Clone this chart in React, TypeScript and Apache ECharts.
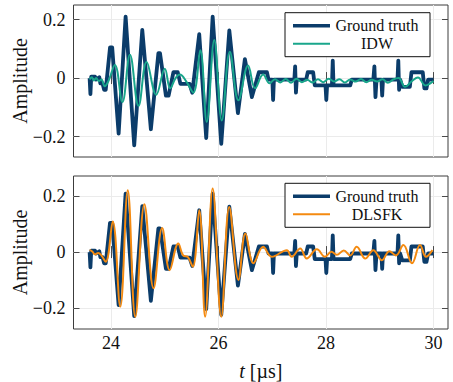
import React, { useEffect, useRef } from 'react';
import * as echarts from 'echarts';

// ---- data ----
const xTicks = [24, 26, 28, 30];
const yTicks = [-0.2, 0, 0.2];

const gtT = [23.6, 23.615, 23.63, 23.7, 23.72, 23.78, 23.8, 23.84, 23.87, 23.9, 23.98, 24.02, 24.14, 24.27, 24.43, 24.58, 24.74, 24.88, 24.91, 25.02, 25.07, 25.16, 25.24, 25.29, 25.46, 25.51, 25.64, 25.77, 25.89, 26.05, 26.2, 26.36, 26.49, 26.62, 26.75, 26.9, 26.93, 27.0, 27.015, 27.03, 27.41, 27.425, 27.44, 27.455, 27.63, 27.66, 27.76, 27.79, 27.99, 28.005, 28.02, 28.11, 28.125, 28.14, 28.45, 28.48, 28.88, 28.9, 28.92, 28.94, 29.03, 29.045, 29.06, 29.33, 29.345, 29.36, 29.38, 29.42, 29.56, 29.59, 29.8, 29.83, 29.87, 29.9, 30.0];
const gtV = [0.0, -0.055, 0.005, 0.005, -0.005, 0.003, -0.018, -0.018, -0.04, -0.04, 0.105, 0.105, -0.19, 0.21, -0.23, 0.165, -0.175, 0.085, 0.085, -0.06, -0.06, 0.02, 0.02, -0.02, -0.02, -0.05, 0.15, -0.205, 0.21, -0.225, 0.163, -0.12, 0.065, -0.065, 0.02, 0.02, -0.005, -0.005, -0.075, -0.005, -0.005, 0.04, -0.05, -0.005, -0.005, 0.02, 0.02, -0.025, -0.025, -0.075, -0.025, -0.025, 0.06, -0.025, -0.025, -0.005, -0.005, 0.04, -0.065, -0.005, -0.005, -0.06, -0.005, -0.005, 0.06, -0.04, -0.005, -0.03, -0.03, 0.02, 0.02, -0.035, -0.035, -0.005, -0.005];

const idwT = [23.6, 23.64, 23.68, 23.72, 23.77, 23.82, 23.88, 23.95, 24.07, 24.21, 24.35, 24.51, 24.66, 24.84, 25.0, 25.1, 25.2, 25.28, 25.4, 25.53, 25.66, 25.78, 25.92, 26.06, 26.21, 26.37, 26.55, 26.68, 26.83, 26.95, 27.05, 27.15, 27.25, 27.35, 27.45, 27.55, 27.65, 27.75, 27.85, 27.95, 28.05, 28.15, 28.25, 28.35, 28.45, 28.55, 28.65, 28.75, 28.85, 28.95, 29.05, 29.15, 29.25, 29.35, 29.47, 29.6, 29.71, 29.85, 30.0];
const idwV = [-0.005, 0.003, -0.008, 0.0, -0.01, -0.005, -0.028, -0.01, 0.045, -0.082, 0.08, -0.095, 0.055, -0.057, 0.032, -0.035, 0.0, 0.012, -0.012, -0.05, 0.095, -0.15, 0.13, -0.145, 0.09, -0.076, 0.043, -0.035, 0.012, -0.018, -0.004, -0.015, -0.003, -0.016, -0.002, -0.014, -0.006, -0.015, -0.004, -0.014, -0.002, -0.012, -0.004, -0.015, -0.005, -0.012, -0.003, -0.014, -0.006, -0.012, -0.004, -0.016, -0.005, 0.0, -0.03, -0.01, 0.002, -0.025, -0.01];

const dlsfkT = [23.6, 23.65, 23.7, 23.76, 23.82, 23.9, 24.03, 24.17, 24.31, 24.45, 24.62, 24.79, 24.95, 25.09, 25.25, 25.34, 25.43, 25.52, 25.64, 25.75, 25.89, 26.05, 26.2, 26.37, 26.5, 26.65, 26.83, 26.99, 27.27, 27.36, 27.52, 27.64, 27.83, 27.98, 28.1, 28.2, 28.33, 28.45, 28.57, 28.73, 28.88, 29.04, 29.18, 29.3, 29.44, 29.6, 29.75, 29.86, 29.98];
const dlsfkV = [0.008, 0.002, -0.008, -0.003, -0.012, -0.035, 0.11, -0.196, 0.222, -0.232, 0.172, -0.13, 0.086, -0.065, 0.031, -0.012, -0.018, -0.053, 0.15, -0.232, 0.228, -0.232, 0.162, -0.1, 0.067, -0.04, 0.019, -0.017, 0.007, -0.017, 0.013, -0.023, 0.01, -0.017, 0.001, -0.01, 0.006, -0.012, 0.019, -0.023, 0.007, -0.029, 0.003, -0.012, 0.025, -0.04, 0.025, -0.017, 0.007];

const zip = (t: number[], v: number[]) => t.map((x, i) => [x, v[i]]);

const FONT = '"Liberation Serif", "Times New Roman", serif';
const C_GT = '#0b3c6a';
const C_IDW = '#19a68b';
const C_DL = '#f48a10';

const fmtY = (v: number) => (v === 0 ? '0' : (v < 0 ? '\u2212' : '') + String(Math.abs(v)));

export default function App() {
  const ref = useRef<HTMLDivElement>(null);
  useEffect(() => {
    if (!ref.current) return;
    const chart = echarts.init(ref.current, undefined, { renderer: 'svg' });

    const tickStyle = { inside: true, length: 6, lineStyle: { color: '#4a4a4a', width: 1 } };
    const split = { show: true, lineStyle: { color: '#ebebeb', width: 1 } };
    const xBase = { type: 'value', min: 23.3, max: 30.27, axisLine: { show: false } };
    const labelFont = { fontFamily: FONT, fontSize: 18, color: '#111' };

    const xAxis: any[] = [];
    const yAxis: any[] = [];
    const yRanges = [[-0.27, 0.25], [-0.276, 0.273]];
    [0, 1].forEach((g) => {
      xAxis.push({
        ...xBase, gridIndex: g, position: 'bottom',
        axisTick: { ...tickStyle, customValues: xTicks },
        axisLabel: g === 1 ? { show: true, customValues: xTicks, margin: 5, ...labelFont } : { show: false, customValues: xTicks },
        splitLine: split,
        name: g === 1 ? '{i|t} [\u00b5s]' : '',
        nameLocation: 'middle', nameGap: 32, nameMoveOverlap: false,
        nameTextStyle: { fontFamily: FONT, fontSize: 20, color: '#111', rich: { i: { fontFamily: FONT, fontSize: 20, fontStyle: 'italic', color: '#111' } } },
      });
      xAxis.push({
        ...xBase, gridIndex: g, position: 'top',
        axisTick: { ...tickStyle, customValues: xTicks },
        axisLabel: { show: false, customValues: xTicks },
        splitLine: { show: false },
      });
      yAxis.push({
        type: 'value', gridIndex: g, position: 'left', min: yRanges[g][0], max: yRanges[g][1],
        axisLine: { show: false },
        axisTick: { ...tickStyle, customValues: yTicks },
        axisLabel: { show: true, customValues: yTicks, margin: 8, formatter: fmtY, ...labelFont },
        splitLine: split,
        name: 'Amplitude', nameLocation: 'middle', nameGap: 44, nameMoveOverlap: false,
        nameTextStyle: { fontFamily: FONT, fontSize: 20, color: '#111' },
      });
      yAxis.push({
        type: 'value', gridIndex: g, position: 'right', min: yRanges[g][0], max: yRanges[g][1],
        axisLine: { show: false },
        axisTick: { ...tickStyle, customValues: yTicks },
        axisLabel: { show: false, customValues: yTicks },
        splitLine: { show: false },
      });
    });

    const iconThick = 'path://M0,0 M0,3.5 M0,0 L37,0 L37,3.5 L0,3.5 Z';
    const iconThin = 'path://M0,0 M0,3.5 M0,0.75 L37,0.75 L37,2.75 L0,2.75 Z';
    const legendCommon = {
      orient: 'vertical', left: 285, itemWidth: 37, itemHeight: 3.5, itemGap: 0,
      backgroundColor: '#fff', borderColor: '#111', borderWidth: 1, borderRadius: 0,
      padding: [4, 11, 4, 8], selectedMode: false, itemStyle: { borderWidth: 0 },
      formatter: (name: string) => `{c|${name}}`,
      textStyle: {
        fontFamily: FONT, fontSize: 16, color: '#111', lineHeight: 18,
        rich: { c: { width: 84, align: 'center', fontFamily: FONT, fontSize: 16, color: '#111', lineHeight: 18 } },
      },
    };

    const gridCommon = { left: 73.5, right: 5, show: true, borderColor: '#3c3c3c', borderWidth: 1, backgroundColor: 'transparent', containLabel: false, outerBoundsMode: 'none' };

    chart.setOption({
      animation: false,
      backgroundColor: '#fff',
      grid: [
        { ...gridCommon, top: 5, height: 152 },
        { ...gridCommon, top: 176, height: 153 },
      ],
      xAxis,
      yAxis,
      legend: [
        { ...legendCommon, top: 12.7, data: [
          { name: 'Ground truth', icon: iconThick, itemStyle: { color: C_GT, borderWidth: 0 } },
          { name: 'IDW', icon: iconThin, itemStyle: { color: C_IDW, borderWidth: 0 } },
        ] },
        { ...legendCommon, top: 183.3, data: [
          { name: 'Ground truth', icon: iconThick, itemStyle: { color: C_GT, borderWidth: 0 } },
          { name: 'DLSFK', icon: iconThin, itemStyle: { color: C_DL, borderWidth: 0 } },
        ] },
      ],
      series: [
        { name: 'Ground truth', type: 'line', xAxisIndex: 0, yAxisIndex: 0, data: zip(gtT, gtV), symbol: 'none', lineStyle: { color: C_GT, width: 3.8, join: 'round' }, itemStyle: { color: C_GT } },
        { name: 'IDW', type: 'line', xAxisIndex: 0, yAxisIndex: 0, data: zip(idwT, idwV), symbol: 'none', smooth: 0.4, lineStyle: { color: C_IDW, width: 2 }, itemStyle: { color: C_IDW } },
        { name: 'Ground truth', type: 'line', xAxisIndex: 2, yAxisIndex: 2, data: zip(gtT, gtV), symbol: 'none', lineStyle: { color: C_GT, width: 3.8, join: 'round' }, itemStyle: { color: C_GT } },
        { name: 'DLSFK', type: 'line', xAxisIndex: 2, yAxisIndex: 2, data: zip(dlsfkT, dlsfkV), symbol: 'none', smooth: 0.4, lineStyle: { color: C_DL, width: 2 }, itemStyle: { color: C_DL } },
      ],
    });
    return () => chart.dispose();
  }, []);
  return <div ref={ref} style={{ position: 'absolute', left: 0, top: 0, width: 453, height: 382 }} />;
}
